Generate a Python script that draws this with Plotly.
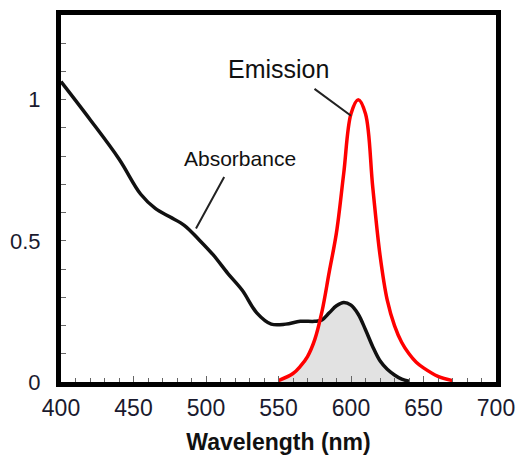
import plotly.graph_objects as go

# Absorbance spectrum (nm, normalized)
abs_nm = [400, 420, 440, 455, 465, 475, 485, 495, 505, 515, 525, 535, 545, 555, 565, 575, 580, 585, 590, 595, 600, 605, 610, 615, 620, 625, 630, 635, 640]
abs_val = [1.064, 0.93, 0.79, 0.665, 0.615, 0.585, 0.555, 0.505, 0.45, 0.385, 0.325, 0.245, 0.205, 0.205, 0.215, 0.215, 0.22, 0.245, 0.27, 0.282, 0.272, 0.24, 0.185, 0.125, 0.075, 0.045, 0.025, 0.01, 0.003]

# Emission spectrum (nm, normalized)
em_nm = [550, 560, 565, 570, 575, 580, 585, 590, 595, 600, 605, 610, 615, 620, 625, 630, 635, 640, 645, 650, 660, 670]
em_val = [0.005, 0.03, 0.055, 0.09, 0.15, 0.25, 0.39, 0.53, 0.74, 0.95, 1.0, 0.95, 0.69, 0.45, 0.29, 0.20, 0.14, 0.10, 0.07, 0.05, 0.02, 0.005]

x_ticks = [400, 450, 500, 550, 600, 650, 700]
y_ticks = [0, 0.5, 1]
y_ticktext = ["0", "0.5", "1"]
x_label = "Wavelength (nm)"

# overlap region (emission below absorbance on the left, absorbance below emission on the right)
cross = 578
ov_x = [x for x in em_nm if x < cross] + [x for x in abs_nm if x >= cross]
ov_y = [y for x, y in zip(em_nm, em_val) if x < cross] + [y for x, y in zip(abs_nm, abs_val) if x >= cross]

fig = go.Figure()
fig.add_trace(go.Scatter(x=ov_x, y=ov_y, mode="lines", line=dict(width=0, shape="spline"),
                         fill="tozeroy", fillcolor="#e2e2e2", hoverinfo="skip", showlegend=False))
fig.add_trace(go.Scatter(x=abs_nm, y=abs_val, mode="lines", line=dict(color="#111111", width=3.5, shape="spline"),
                         name="Absorbance", showlegend=False))
fig.add_trace(go.Scatter(x=em_nm, y=em_val, mode="lines", line=dict(color="#ff0000", width=3.5, shape="spline"),
                         name="Emission", showlegend=False))

font_fam = "Liberation Sans, Arial, sans-serif"
fig.add_annotation(x=550.3, y=1.11, text="Emission", showarrow=False,
                   font=dict(family=font_fam, size=25, color="#111111"))
fig.add_annotation(x=523.4, y=0.79, text="Absorbance", showarrow=False,
                   font=dict(family=font_fam, size=21, color="#111111"))
# pointer lines
fig.add_annotation(x=600, y=0.943, ax=-38, ay=-28, text="", showarrow=True, arrowhead=0,
                   arrowwidth=2, arrowcolor="#222222")
fig.add_annotation(x=493.1, y=0.544, ax=29, ay=-53, text="", showarrow=True, arrowhead=0,
                   arrowwidth=2, arrowcolor="#222222")

fig.update_xaxes(range=[400, 700], tickvals=x_ticks, ticks="inside", ticklen=6, tickcolor="#666666",
                 showline=True, linewidth=5, linecolor="black", mirror=True, showgrid=False, zeroline=False,
                 minor=dict(dtick=10, ticks="inside", ticklen=4, tickcolor="#666666", showgrid=False),
                 tickfont=dict(family=font_fam, size=23, color="#1a1a2e"), ticklabelstandoff=1,
                 automargin=False,
                 title=dict(text="<b>" + x_label + "</b>", font=dict(family=font_fam, size=23, color="#111111"), standoff=17))
fig.update_yaxes(range=[0, 1.3], tickvals=y_ticks, ticktext=y_ticktext, ticks="inside", ticklen=5, tickcolor="#666666",
                 showline=True, linewidth=5, linecolor="black", mirror=True, showgrid=False, zeroline=False,
                 minor=dict(dtick=0.1, ticks="inside", ticklen=5, tickcolor="#666666", showgrid=False),
                 tickfont=dict(family=font_fam, size=22, color="#1a1a2e"), ticklabelstandoff=11,
                 automargin=False)

fig.update_layout(width=518, height=455, margin=dict(l=61, r=22, t=15, b=73),
                  plot_bgcolor="white", paper_bgcolor="white", showlegend=False)
fig.write_html("out.html", config={"displayModeBar": False},
               post_script="document.body.style.margin='0';document.body.style.overflow='hidden';")
